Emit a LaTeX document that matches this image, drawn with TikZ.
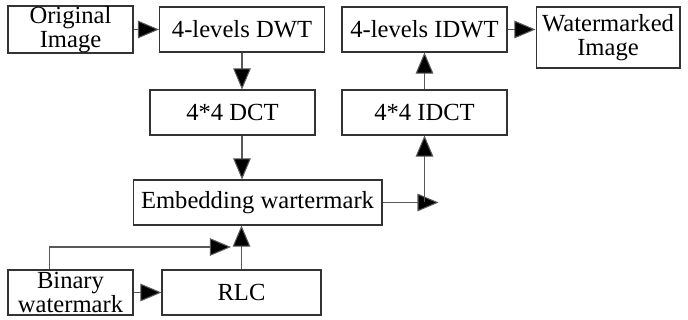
\documentclass[tikz,border=0pt]{standalone}
\usepackage{fontspec}
\setmainfont{Liberation Serif}
\usetikzlibrary{arrows.meta, positioning, calc}
\tikzstyle{block} = [rectangle, draw=black!80, line width=0.6pt, text centered, inner sep=0pt, fill=white, font=\fontsize{14}{14}\selectfont]
\tikzstyle{flow}  = [line width=0.6pt, draw=black!65, -{Triangle[length=12pt,width=10pt,fill=black]}]

\begin{document}
\begin{tikzpicture}[x=0.02cm, y=-0.02cm]
	\useasboundingbox (0,0) rectangle (688,320);

	% Top row
	\node (orig) [block, minimum width=2.5cm, minimum height=0.9cm, align=center] at (70.5,29.5) {Original\\Image};
	\node (dwt) [block, minimum width=3.3cm, minimum height=0.9cm] at (242,29.5) {4-levels DWT};
	\node (idwt) [block, minimum width=3.3cm, minimum height=0.9cm] at (424.5,29.5) {4-levels IDWT};
	\node (marked) [block, minimum width=2.88cm, minimum height=1.22cm, align=center] at (608,37.5) {Watermarked\\Image};

	% Transforms
	\node (dct) [block, minimum width=3.3cm, minimum height=0.9cm] at (232.5,112.5) {4*4 DCT};
	\node (idct) [block, minimum width=3.3cm, minimum height=0.9cm] at (424.5,112.5) {4*4 IDCT};

	% Embedding
	\node (embed) [block, minimum width=4.98cm, minimum height=0.9cm] at (257.5,202.5) {Embedding wartermark};

	% Watermark input
	\node (binary) [block, minimum width=2.5cm, minimum height=0.9cm, align=center] at (70.5,292.5) {Binary\\watermark};
	\node (rlc) [block, minimum width=3.18cm, minimum height=0.9cm] at (241.5,292.5) {RLC};

	% Helper points
	\coordinate (turn) at (idct.south|-embed.east);
	\coordinate (tap) at ($(binary.north west)!0.336!(binary.north east)$);
	\coordinate (over) at (tap|-0,247);

	% Arrows
	\draw[flow] (orig.east) -- (dwt.west);
	\draw[flow] (dwt.south) -- (dwt.south|-dct.north);
	\draw[flow] (dwt.south|-dct.south) -- (dwt.south|-embed.north);
	\draw[flow] (embed.east) -- ([xshift=8]turn);
	\draw[flow] (turn) -- (idct.south);
	\draw[flow] (idct.north) -- (idwt.south);
	\draw[flow] (idwt.east) -- (idwt.east-|marked.west);

	\draw[flow] (binary.east) -- (rlc.west);
	\draw[flow] (rlc.north) -- (rlc.north|-embed.south);
	\draw[flow] (tap) -- (over) -- ([xshift=-6]over-|rlc.north);

\end{tikzpicture}
\end{document}
